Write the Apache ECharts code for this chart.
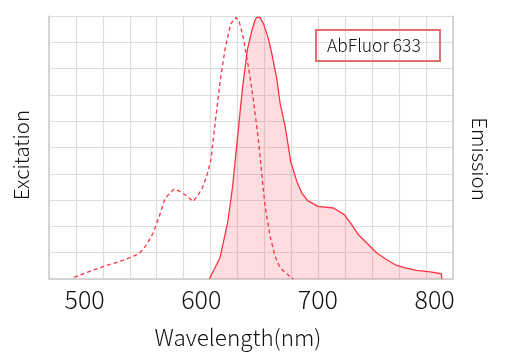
<!DOCTYPE html>
<html>
<head>
<meta charset="utf-8">
<script src="https://cdn.jsdelivr.net/npm/echarts@6/dist/echarts.min.js"></script>
<style>html,body{margin:0;padding:0;background:#fff;}#c{width:509px;height:361px;}</style>
</head>
<body>
<div id="c"></div>
<script>
var xTickLabels = [500, 600, 700, 800];
var seriesName = 'AbFluor 633';
var excitationWl = [491.0,504.4,518.7,533.0,546.8,553.1,558.8,564.0,568.8,573.1,576.8,581.7,587.4,593.1,597.4,600.9,604.6,608.3,611.7,616.0,620.3,625.2,629.8,632.6,636.1,640.4,644.7,649.0,651.8,654.7,659.0,663.3,667.6,673.3,679.0];
var excitationVal = [0.6,2.9,5.1,7.1,9.6,13.0,17.5,23.8,30.4,32.7,34.2,33.3,31.6,29.5,32.0,34.6,39.0,45.3,58.6,74.4,87.1,97.0,99.5,97.8,91.5,80.8,68.1,52.9,40.3,27.6,16.2,8.6,4.2,2.0,0];
var emissionWl = [606.9,616.0,622.6,626.9,630.9,635.2,639.5,643.2,646.1,647.5,650.4,653.2,657.5,661.0,664.7,667.6,671.9,676.7,681.9,686.2,691.0,699.9,713.3,722.8,729.1,734.8,743.4,750.5,759.1,766.3,774.9,784.9,796.3,805.8,806.3];
var emissionVal = [0,8.0,21.3,35.2,52.9,71.9,87.1,94.1,98.5,99.5,99.5,97.2,91.5,84.6,76.3,66.8,58.0,44.7,37.1,32.7,29.9,27.6,27.0,24.4,20.6,16.8,13.0,9.9,7.3,5.4,4.2,3.3,2.7,2.0,0];

function pairs(xs, ys){ return xs.map(function(x,i){ return [x, ys[i]]; }); }

var FONT = '"Noto Sans CJK SC", "Noto Sans", sans-serif';
var chart = echarts.init(document.getElementById('c'));
chart.setOption({
  animation: false,
  backgroundColor: '#fff',
  grid: { left: 49, right: 56, top: 16, bottom: 82 },
  title: {
    text: seriesName, left: 316, top: 30,
    borderColor: '#e07070', borderWidth: 2, padding: [7, 20, 7, 11],
    textStyle: { fontFamily: FONT, fontSize: 17.5, fontWeight: 300, color: '#111' }
  },
  xAxis: [{
    type: 'value', min: 469.5, max: 815.8,
    axisLine: { show: true, lineStyle: { color: '#ccc', width: 1.5 } },
    axisTick: { show: false },
    splitLine: { show: false },
    axisLabel: { customValues: xTickLabels, fontFamily: FONT, fontSize: 25, fontWeight: 300, color: '#111', margin: 8 }
  }, {
    type: 'value', min: 0, max: 15, interval: 1, position: 'bottom',
    axisLine: { show: false }, axisTick: { show: false }, axisLabel: { show: false },
    splitLine: { show: true, lineStyle: { color: '#ddd', width: 1.2 } }
  }],
  yAxis: [{
    type: 'value', min: 0, max: 100, interval: 10, position: 'left',
    axisLine: { show: true, lineStyle: { color: '#ccc', width: 1.5 } },
    axisTick: { show: false }, axisLabel: { show: false },
    splitLine: { show: true, lineStyle: { color: '#ddd', width: 1.2 } }
  }, {
    type: 'value', min: 0, max: 100, interval: 10, position: 'right',
    axisLine: { show: true, lineStyle: { color: '#ccc', width: 1.5 } },
    axisTick: { show: false }, axisLabel: { show: false },
    splitLine: { show: false }
  }],
  graphic: [
    { type: 'text', x: 238, y: 337, style: { text: 'Wavelength(nm)', font: '300 22.5px ' + FONT, fill: '#111', align: 'center', verticalAlign: 'middle' } },
    { type: 'text', x: 21, y: 155, rotation: Math.PI / 2, style: { text: 'Excitation', font: '300 20.5px ' + FONT, fill: '#111', align: 'center', verticalAlign: 'middle' } },
    { type: 'text', x: 480, y: 159, rotation: -Math.PI / 2, style: { text: 'Emission', font: '300 20.5px ' + FONT, fill: '#111', align: 'center', verticalAlign: 'middle' } }
  ],
  series: [{
    name: 'Excitation', type: 'line', xAxisIndex: 0, yAxisIndex: 0,
    data: pairs(excitationWl, excitationVal), showSymbol: false,
    lineStyle: { color: '#ff3344', width: 1.3, type: [4, 3] }
  }, {
    name: 'Emission', type: 'line', xAxisIndex: 0, yAxisIndex: 1,
    data: pairs(emissionWl, emissionVal), showSymbol: false,
    lineStyle: { color: '#ff3344', width: 1.3 },
    areaStyle: { color: 'rgba(255,40,55,0.23)' }
  }]
});
</script>
</body>
</html>
